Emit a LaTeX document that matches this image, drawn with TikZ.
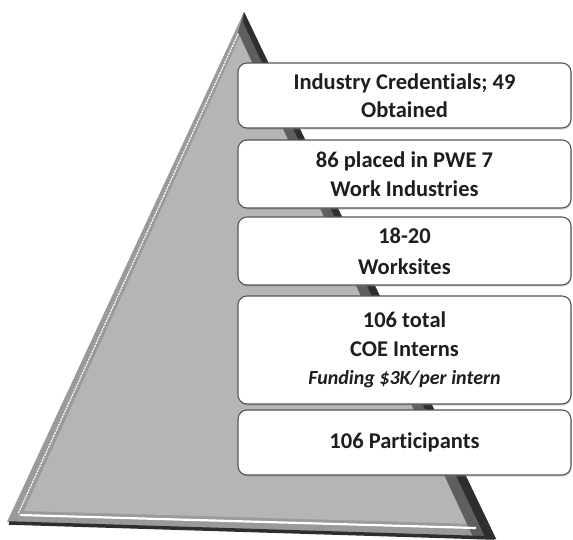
\documentclass[tikz,border=0pt]{standalone}
\usepackage{fontspec}
\setmainfont{Carlito}[Ligatures={NoCommon}]
\usetikzlibrary{shadows}
\definecolor{facegray}{HTML}{B5B5B5}
\definecolor{rimgray}{HTML}{9A9A9A}
\definecolor{edgedark}{HTML}{2E2E2E}
\definecolor{edgemid}{HTML}{5E5E5E}
\definecolor{cardline}{HTML}{555555}
\definecolor{inktext}{HTML}{1E1E1E}
\newcommand\smallnote{\bfseries\itshape\fontsize{20}{24}\selectfont}
\tikzset{
  card/.style={rectangle, rounded corners=9pt, draw=cardline, line width=1.1pt,
    fill=white, minimum width=333pt, inner sep=0pt, align=center,
    text=inktext, font=\bfseries\fontsize{22.5}{28.5}\selectfont,
    drop shadow={opacity=0.35, shadow xshift=0.6pt, shadow yshift=-1.6pt}}
}
\begin{document}
\begin{tikzpicture}[x=1pt,y=-1pt]
\useasboundingbox (0,0) rectangle (573,539);
\fill[white] (0,0) rectangle (573,539);

% pyramid body
\coordinate (apex) at (244,12);
\coordinate (bl) at (7,522);
\coordinate (br) at (496,539);
\fill[rimgray] (apex) -- (br) -- (bl) -- cycle;
% lit face
\fill[facegray] (243,30) -- (478,524) -- (24,511) -- cycle;
% shaded right flank
\fill[edgemid] (apex) -- (br) -- (474,539) -- (238,32) -- cycle;
\fill[edgedark] (apex) -- (br) -- (486,539) -- (243,22) -- cycle;
% bevel highlights on the left and lower edges
\draw[white, line width=1.2pt, dash pattern=on 2pt off 1pt] (238,34) -- (18,514);
\draw[white, line width=2.2pt] (20,515) -- (476,528);
% dark lower rim
\draw[edgedark, line width=3.5pt] (9,523) -- (494,538);

% tier cards
\node[card, minimum height=65pt] (c1) at (404.5,95.5)
  {Industry Credentials; 49\\Obtained};
\node[card, minimum height=68pt] (c2) at (404.5,174)
  {86 placed in PWE 7\\Work Industries};
\node[card, minimum height=68pt, font=\bfseries\fontsize{22.5}{31}\selectfont] (c3) at (404.5,251)
  {18-20\\Worksites};
\node[card, minimum height=108pt] (c4) at (404.5,350)
  {106 total\\COE Interns\\{\smallnote Funding \$3K/per intern}};
\node[card, minimum height=65pt] (c5) at (404.5,442.5)
  {106 Participants};
\end{tikzpicture}
\end{document}
